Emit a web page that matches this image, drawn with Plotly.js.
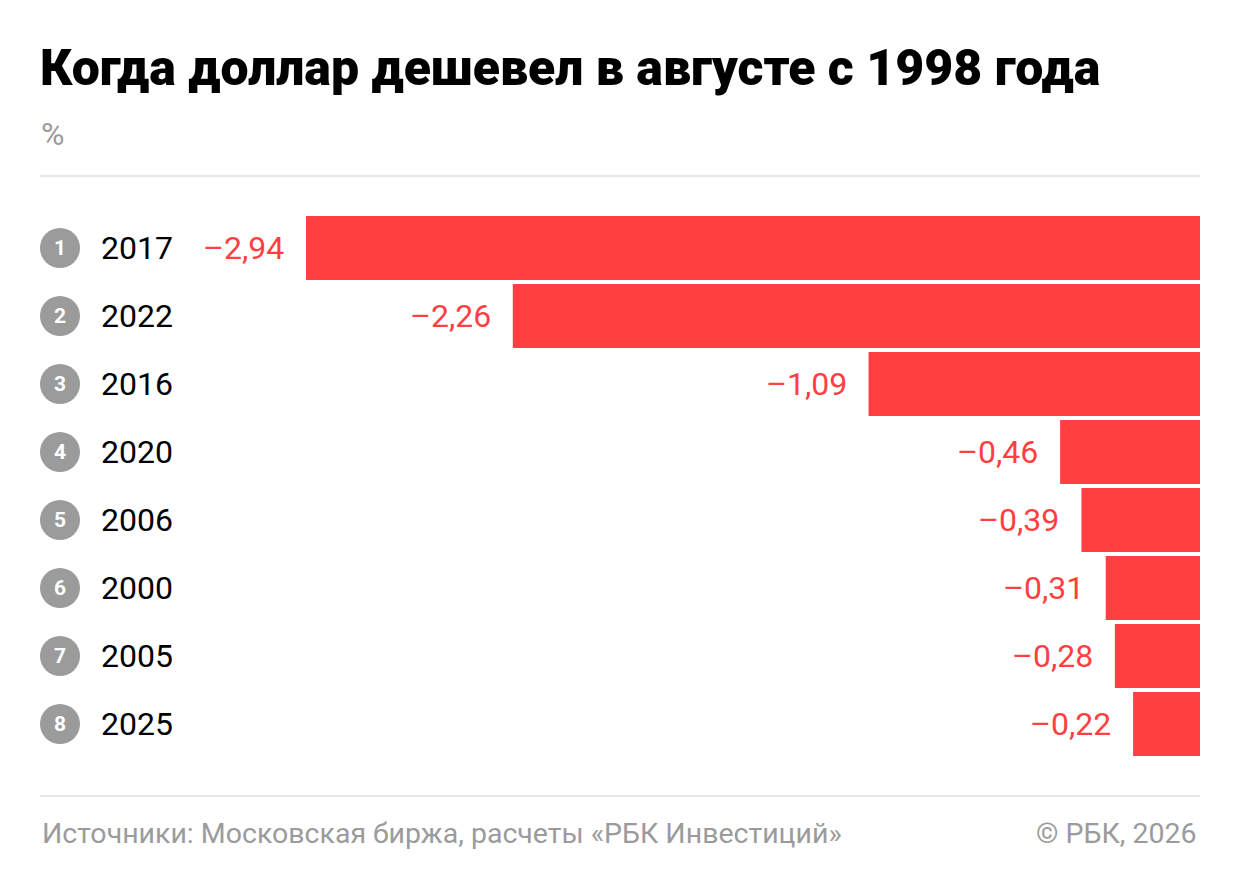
<!DOCTYPE html>
<html>
<head>
<meta charset="utf-8">
<script src="https://cdn.plot.ly/plotly-3.0.1.min.js"></script>
<style>
  html, body { margin: 0; padding: 0; background: #fff; }
  #chart { width: 1240px; height: 892px; }
</style>
</head>
<body>
<div id="chart"></div>
<script>
// data
const years = ["2017", "2022", "2016", "2020", "2006", "2000", "2005", "2025"];
const ranks = ["1", "2", "3", "4", "5", "6", "7", "8"];
const values = [-2.94, -2.26, -1.09, -0.46, -0.39, -0.31, -0.28, -0.22];

const TITLE = "Когда доллар дешевел в августе с 1998 года";
const UNIT = "%";
const SOURCE = "Источники: Московская биржа, расчеты «РБК Инвестиций»";
const COPY = "© РБК, 2026";

const RED = "#ff3f42";
const GREY = "#9b9b9b";
const FONT = "Roboto, 'Liberation Sans', sans-serif";

// page geometry (px)
const W = 1240, H = 892;
const M = { l: 40, r: 40, t: 214, b: 134 };
const plotW = W - M.l - M.r, plotH = H - M.t - M.b;
const px = (x) => (x - M.l) / plotW;
const py = (y) => (H - M.b - y) / plotH;

const fmt = (v) => "–" + Math.abs(v).toFixed(2).replace(".", ",");

const annotations = [];

// title, unit, footer
annotations.push({ text: TITLE, xref: "paper", yref: "paper", x: px(38), y: py(68),
  xanchor: "left", yanchor: "middle", showarrow: false, font: { family: FONT, size: 50, weight: 900, color: "#000" } });
annotations.push({ text: UNIT, xref: "paper", yref: "paper", x: px(39), y: py(134),
  xanchor: "left", yanchor: "middle", showarrow: false, font: { family: FONT, size: 32, color: GREY } });
annotations.push({ text: SOURCE, xref: "paper", yref: "paper", x: px(40), y: py(833),
  xanchor: "left", yanchor: "middle", showarrow: false, font: { family: FONT, size: 28.5, color: GREY } });
annotations.push({ text: COPY, xref: "paper", yref: "paper", x: px(1198), y: py(833),
  xanchor: "right", yanchor: "middle", showarrow: false, font: { family: FONT, size: 28.5, color: GREY } });

// row labels: rank number, year, value (y given as category index)
years.forEach((yr, i) => {
  annotations.push({ text: "<b>" + ranks[i] + "</b>", xref: "paper", yref: "y", x: px(60), y: i,
    xanchor: "center", yanchor: "middle", showarrow: false, font: { family: FONT, size: 21, color: "#fff" } });
  annotations.push({ text: yr, xref: "paper", yref: "y", x: px(99), y: i,
    xanchor: "left", yanchor: "middle", showarrow: false, font: { family: FONT, size: 32, color: "#000" } });
  annotations.push({ text: fmt(values[i]), xref: "x", yref: "y", x: values[i], y: i, xshift: -20,
    xanchor: "right", yanchor: "middle", showarrow: false, font: { family: FONT, size: 32, color: RED } });
});

const shapes = [
  { type: "line", xref: "paper", yref: "paper", x0: 0, x1: 1, y0: py(176), y1: py(176), line: { color: "#e6e6e6", width: 2 } },
  { type: "line", xref: "paper", yref: "paper", x0: 0, x1: 1, y0: py(796), y1: py(796), line: { color: "#e6e6e6", width: 2 } },
];
years.forEach((yr, i) => {
  shapes.push({ type: "circle", xref: "paper", yref: "y", xsizemode: "pixel", ysizemode: "pixel",
    xanchor: px(60), yanchor: i, x0: -20, x1: 20, y0: -20, y1: 20,
    fillcolor: GREY, line: { width: 0 }, layer: "below" });
});

const trace = {
  type: "bar",
  orientation: "h",
  x: values,
  y: years,
  marker: { color: RED, line: { width: 0 } },
  hoverinfo: "skip",
};

const pxPerUnit = 894 / 2.94;

const layout = {
  width: W, height: H,
  margin: M,
  paper_bgcolor: "#fff",
  plot_bgcolor: "#fff",
  showlegend: false,
  bargap: 0.06,
  xaxis: { range: [-plotW / pxPerUnit, 0], visible: false, fixedrange: true },
  yaxis: { type: "category", range: [years.length - 0.5, -0.5], visible: false, fixedrange: true },
  annotations,
  shapes,
};

Plotly.newPlot("chart", [trace], layout, { displayModeBar: false, staticPlot: true });
</script>
</body>
</html>
